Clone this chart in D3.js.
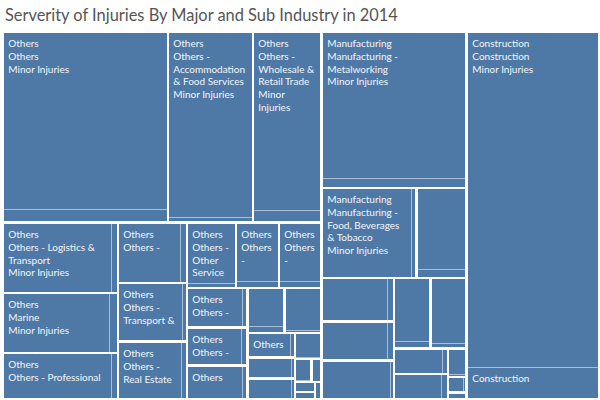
<!DOCTYPE html>
<html><head><meta charset="utf-8">
<script src="https://cdn.jsdelivr.net/npm/d3@7"></script>
<style>body{margin:0;background:#fff}svg{display:block}</style>
</head><body>
<svg id="chart" width="600" height="400"></svg>
<script>
const title = "Serverity of Injuries By Major and Sub Industry in 2014";
const majorNames = ["Others", "Manufacturing", "Construction"];
const severityNames = ["Minor Injuries", "Major Injuries"];

const othersSubs = [
  "Others",
  "Others - Accommodation & Food Services",
  "Others - Wholesale & Retail Trade",
  "Others - Logistics & Transport",
  "Marine",
  "Others - Professional Services",
  "Others - Administrative & Support Services",
  "Others - Transport & Storage",
  "Others - Real Estate Activities",
  "Others - Other Service Activities",
  "Others - Information & Communications",
  "Others - Financial & Insurance",
  "Others - Public Administration",
  "Others - Education",
  "Others - Health & Social Services",
  "Others - Arts, Entertainment & Recreation",
  "Others - Electricity & Gas Supply",
  "Others - Water Supply & Waste Management",
  "Others - Cleaning & Landscaping",
  "Others - Security Services",
  "Others - Agriculture & Fishing",
  "Others - Mining & Quarrying",
  "Others - Community Services",
  "Others - Domestic Services",
  "Others - International Organisations",
  "Others - Unclassified"
];
const othersMinor = [1622, 869, 676, 422, 357, 279, 208, 208, 205, 166, 142, 139, 124, 115, 105, 80, 87, 60, 52, 51, 36, 20, 12, 11, 8, 6];
const othersMajorInj = [114, 23, 42, 23, 25, 14, 20, 13, 14, 9, 13, 12, 9, 10, 8, 12, 4, 5, 3, 3, 2, 1, 0, 0, 0, 0];

const manufSubs = [
  "Manufacturing - Metalworking",
  "Manufacturing - Food, Beverages & Tobacco",
  "Manufacturing - Chemicals & Pharmaceuticals",
  "Manufacturing - Electronics",
  "Manufacturing - Transport Equipment",
  "Manufacturing - Rubber & Plastic Products",
  "Manufacturing - Machinery & Equipment",
  "Manufacturing - Printing",
  "Manufacturing - Wood Products",
  "Manufacturing - Paper Products",
  "Manufacturing - Furniture",
  "Manufacturing - Petroleum Products",
  "Manufacturing - Textiles"
];
const manufMinor = [1180, 452, 224, 160, 143, 148, 130, 132, 70, 67, 27, 14, 7];
const manufMajorInj = [68, 20, 22, 14, 13, 6, 12, 8, 6, 8, 2, 2, 0];

const constrSubs = ["Construction"];
const constrMinor = [2460];
const constrMajorInj = [224];

function buildMajor(name, subs, minor, major) {
  return {
    name,
    children: subs.map((s, i) => ({
      name: s,
      children: [
        {name: severityNames[0], value: minor[i]},
        {name: severityNames[1], value: major[i]}
      ].filter(d => d.value > 0)
    }))
  };
}

const data = {name: "All", children: [
  buildMajor(majorNames[0], othersSubs, othersMinor, othersMajorInj),
  buildMajor(majorNames[1], manufSubs, manufMinor, manufMajorInj),
  buildMajor(majorNames[2], constrSubs, constrMinor, constrMajorInj)
]};

const svg = d3.select("#chart");
const FONT = "Lato, 'Open Sans', sans-serif";
const mapLeft = 4, mapTop = 33, mapW = 594, mapH = 365;

svg.append("text")
  .attr("x", 5).attr("y", 21)
  .attr("font-family", FONT).attr("font-size", 16.4)
  .attr("fill", "#555").text(title);

const root = d3.hierarchy(data)
  .sum(d => d.value || 0)
  .sort((a, b) => b.value - a.value);

d3.treemap()
  .tile(d3.treemapSquarify)
  .size([mapW, mapH])
  .paddingInner(d => d.depth === 2 ? 1 : 2.5)(root);

const g = svg.append("g").attr("transform", `translate(${mapLeft},${mapTop})`);
const R = Math.round;

const subs = root.descendants().filter(d => d.depth === 2);
g.selectAll("rect.sub").data(subs).join("rect")
  .attr("class", "sub")
  .attr("x", d => R(d.x0)).attr("y", d => R(d.y0))
  .attr("width", d => R(d.x1) - R(d.x0)).attr("height", d => R(d.y1) - R(d.y0))
  .attr("fill", "#a9bdd4").attr("shape-rendering", "crispEdges");

const leaves = root.leaves();
g.selectAll("rect.leaf").data(leaves).join("rect")
  .attr("class", "leaf")
  .attr("x", d => R(d.x0)).attr("y", d => R(d.y0))
  .attr("width", d => Math.max(0, R(d.x1) - R(d.x0))).attr("height", d => Math.max(0, R(d.y1) - R(d.y0)))
  .attr("fill", "#4e79a7").attr("shape-rendering", "crispEdges");

const meas = svg.append("text").attr("font-family", FONT).attr("font-size", 10).attr("visibility", "hidden");
function tw(s) { meas.text(s); return meas.node().getComputedTextLength(); }

function wrap(fields, w) {
  const fits = s => 4 + tw(s) * 1.06 + 1.5 <= w;
  const lines = [];
  for (const f of fields) {
    let cur = "";
    for (const word of f.split(" ")) {
      const t = cur ? cur + " " + word : word;
      if (fits(t)) { cur = t; continue; }
      if (cur) lines.push(cur);
      if (!fits(word)) return lines;
      cur = word;
    }
    if (cur) lines.push(cur);
  }
  return lines;
}

leaves.forEach(d => {
  const x0 = R(d.x0), y0 = R(d.y0), w = R(d.x1) - x0, h = R(d.y1) - y0;
  if (h < 19.5) return;
  const maxLines = Math.floor((h - 14 - 5.5) / 12.8) + 1;
  const fields = [d.parent.parent.data.name, d.parent.data.name, d.data.name];
  const lines = wrap(fields, w).slice(0, maxLines);
  lines.forEach((ln, i) => {
    g.append("text")
      .attr("x", x0 + 4.3).attr("y", y0 + 14 + i * 12.8)
      .attr("font-family", FONT).attr("font-size", 10)
      .attr("fill", "#f3f6f9").text(ln);
  });
});
meas.remove();
</script>
</body></html>
